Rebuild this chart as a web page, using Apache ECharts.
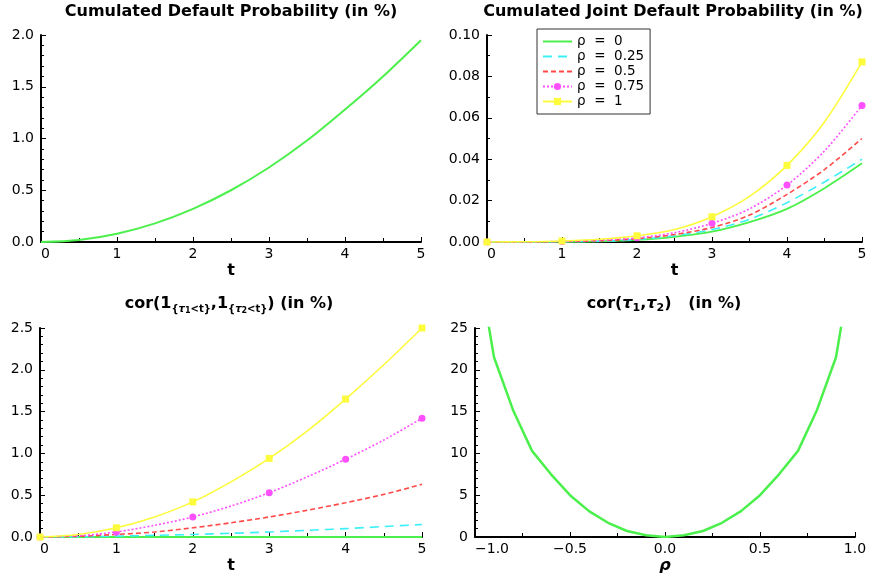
<!DOCTYPE html>
<html>
<head>
<meta charset="utf-8">
<script src="https://cdn.jsdelivr.net/npm/echarts@6/dist/echarts.min.js"></script>
<style>html,body{margin:0;padding:0;background:#fff}#c{width:871px;height:578px}</style>
</head>
<body>
<div id="c"></div>
<script>
// ---- data ----
const tGrid = [0, 0.5, 1, 1.5, 2, 2.5, 3, 3.5, 4, 4.5, 5];
const cumDefault = [0, 0.02, 0.08, 0.18, 0.32, 0.50, 0.72, 0.98, 1.28, 1.60, 1.95];

const rhoNames = ['ρ  =  0', 'ρ  =  0.25', 'ρ  =  0.5', 'ρ  =  0.75', 'ρ  =  1'];

const jointRho0   = [0, 0, 0.0001, 0.0003, 0.0010, 0.0025, 0.0050, 0.0096, 0.0160, 0.0260, 0.0380];
const jointRho025 = [0, 0, 0.0001, 0.0004, 0.0012, 0.0030, 0.0060, 0.0110, 0.0190, 0.0290, 0.0400];
const jointRho05  = [0, 0, 0.0002, 0.0006, 0.0016, 0.0036, 0.0070, 0.0130, 0.0230, 0.0350, 0.0500];
const jointRho075 = [0, 0, 0.0003, 0.0009, 0.0020, 0.0045, 0.0090, 0.0160, 0.0275, 0.0440, 0.0660];
const jointRho1   = [0, 0.0001, 0.0005, 0.0013, 0.0030, 0.0060, 0.0122, 0.0220, 0.0370, 0.0580, 0.0870];

const corRho0   = [0, 0, 0, 0, 0, 0, 0, 0, 0, 0, 0];
const corRho025 = [0, 0.002, 0.01, 0.02, 0.03, 0.045, 0.06, 0.08, 0.10, 0.125, 0.15];
const corRho05  = [0, 0.008, 0.03, 0.06, 0.11, 0.17, 0.24, 0.32, 0.41, 0.51, 0.63];
const corRho075 = [0, 0.015, 0.06, 0.14, 0.24, 0.37, 0.53, 0.72, 0.93, 1.16, 1.42];
const corRho1   = [0, 0.03, 0.11, 0.24, 0.42, 0.66, 0.94, 1.27, 1.65, 2.06, 2.50];

const rhoGrid = [-1, -0.9, -0.8, -0.7, -0.6, -0.5, -0.4, -0.3, -0.2, -0.1, 0, 0.1, 0.2, 0.3, 0.4, 0.5, 0.6, 0.7, 0.8, 0.9, 1];
const tauCorr = [35, 21.5, 15.2, 10.3, 7.5, 5.0, 3.1, 1.7, 0.72, 0.2, 0, 0.2, 0.72, 1.7, 3.1, 5.0, 7.5, 10.3, 15.2, 21.5, 35];

// ---- styles ----
const GREEN = '#4cf04c', CYAN = '#3cf0f8', RED = '#ff4a4a', MAGENTA = '#ff50ff', YELLOW = '#fcfc3c';
const rhoStyles = [
  {color: GREEN, type: 'solid', width: 1.8, symbol: 'none'},
  {color: CYAN, type: [9, 6], width: 1.6, symbol: 'none'},
  {color: RED, type: [5, 3], width: 1.6, symbol: 'none'},
  {color: MAGENTA, type: [2, 2], width: 1.6, symbol: 'circle'},
  {color: YELLOW, type: 'solid', width: 1.6, symbol: 'rect'}
];

function mkSeries(name, ys, xs, idx, st, markIntegers, smooth) {
  return {
    type: 'line', name: name, xAxisIndex: idx, yAxisIndex: idx,
    symbol: st.symbol, symbolSize: 7, showSymbol: st.symbol !== 'none',
    lineStyle: {color: st.color, type: st.type, width: st.width},
    itemStyle: {color: st.color},
    data: ys.map((v, i) => (markIntegers && st.symbol !== 'none' && Number.isInteger(xs[i])) ? [xs[i], v] : {value: [xs[i], v], symbol: 'none'}),
    smooth: smooth ? 0.3 : false, animation: false, z: 3
  };
}

const LBL_FONT = 'DejaVu Sans';
function xAx(idx, min, max, interval, name, fmt, nameStyle) {
  return {
    type: 'value', gridIndex: idx, min: min, max: max, interval: interval,
    name: name, nameLocation: 'middle', nameGap: 21,
    nameTextStyle: Object.assign({color: '#000', fontFamily: 'DejaVu Sans', fontWeight: 'bold', fontSize: 16}, nameStyle || {}),
    axisLine: {onZero: false, lineStyle: {color: '#000', width: 2}},
    axisTick: {inside: true, length: 5, lineStyle: {color: '#000', width: 1}},
    minorTick: {show: true, splitNumber: 2, length: 4, lineStyle: {color: '#000', width: 1}},
    splitLine: {show: false},
    axisLabel: {color: '#000', fontFamily: LBL_FONT, fontSize: 14, margin: 5, formatter: fmt, alignMinLabel: 'left'}
  };
}
function yAx(idx, min, max, interval, minorSplit, fmt) {
  return {
    type: 'value', gridIndex: idx, min: min, max: max, interval: interval,
    axisLine: {onZero: false, lineStyle: {color: '#000', width: 2}},
    axisTick: {inside: true, length: 5, lineStyle: {color: '#000', width: 1}},
    minorTick: {show: true, splitNumber: minorSplit, length: 3, lineStyle: {color: '#000', width: 1}},
    splitLine: {show: false},
    axisLabel: {color: '#000', fontFamily: LBL_FONT, fontSize: 14, margin: 7, formatter: fmt}
  };
}
const fx = d => v => v.toFixed(d);
const fxMinus = v => (v < 0 ? '\u2212' : '') + Math.abs(v).toFixed(1);

// ---- titles (rich fragments measured on canvas) ----
const ctx = document.createElement('canvas').getContext('2d');
const BIG = "bold 16px 'DejaVu Sans'", BIGI = "bold italic 16px 'DejaVu Sans'";
const SUB = "bold 10px 'DejaVu Sans'", SUBI = "bold italic 10px 'DejaVu Sans'", SUB2 = "bold 8px 'DejaVu Sans'";
const SUBT = "bold 11px 'DejaVu Sans'";
function buildTitle(frags, cx, cy) {
  let total = 0;
  frags.forEach(f => { ctx.font = f.font; f.w = ctx.measureText(f.text).width; total += f.w; });
  let x = cx - total / 2;
  return frags.map(f => {
    const el = {type: 'text', x: x, y: cy + (f.dy || 0), silent: true, z: 10,
      style: {text: f.text, font: f.font, fill: '#000', textAlign: 'left', textVerticalAlign: 'middle', align: 'left', verticalAlign: 'middle'}};
    x += f.w;
    return el;
  });
}
const titleEls = [].concat(
  buildTitle([{text: 'Cumulated Default Probability (in %)', font: BIG}], 231, 12),
  buildTitle([{text: 'Cumulated Joint Default Probability (in %)', font: BIG}], 673, 12),
  buildTitle([
    {text: 'cor(1', font: BIG},
    {text: '{', font: SUB, dy: 5}, {text: 'τ', font: SUBI, dy: 5}, {text: '1', font: SUB2, dy: 7}, {text: '<t}', font: SUB, dy: 5},
    {text: ',1', font: BIG},
    {text: '{', font: SUB, dy: 5}, {text: 'τ', font: SUBI, dy: 5}, {text: '2', font: SUB2, dy: 7}, {text: '<t}', font: SUB, dy: 5},
    {text: ') (in %)', font: BIG}
  ], 229, 304),
  buildTitle([
    {text: 'cor(', font: BIG}, {text: 'τ', font: BIGI}, {text: '1', font: SUBT, dy: 4},
    {text: ',', font: BIG}, {text: 'τ', font: BIGI}, {text: '2', font: SUBT, dy: 4},
    {text: ')   (in %)', font: BIG}
  ], 664, 304)
);

// ---- series ----
const series = [];
series.push(mkSeries('cum', cumDefault, tGrid, 0, {color: GREEN, type: 'solid', width: 2, symbol: 'none'}, false, true));
const jointArr = [jointRho0, jointRho025, jointRho05, jointRho075, jointRho1];
const corArr = [corRho0, corRho025, corRho05, corRho075, corRho1];
jointArr.forEach((a, i) => series.push(mkSeries(rhoNames[i], a, tGrid, 1, rhoStyles[i], true, true)));
corArr.forEach((a, i) => series.push(mkSeries(rhoNames[i], a, tGrid, 2, rhoStyles[i], true, true)));
series.push(mkSeries('taucor', tauCorr, rhoGrid, 3, {color: GREEN, type: 'solid', width: 2.5, symbol: 'none'}, false, false));

const legendData = rhoNames.map((n, i) => rhoStyles[i].symbol === 'none' ? {name: n, itemStyle: {opacity: 0}} : {name: n});

const option = {
  animation: false,
  backgroundColor: '#fff',
  grid: [
    {left: 41, top: 35, width: 380, height: 207},
    {left: 487, top: 35, width: 375, height: 207},
    {left: 40, top: 328, width: 382, height: 209},
    {left: 475, top: 328, width: 380, height: 209}
  ],
  xAxis: [
    xAx(0, 0, 5, 1, 't', fx(0)),
    xAx(1, 0, 5, 1, 't', fx(0)),
    xAx(2, 0, 5, 1, 't', fx(0)),
    xAx(3, -1, 1, 0.5, 'ρ', fxMinus, {fontStyle: 'italic'})
  ],
  yAxis: [
    yAx(0, 0, 2, 0.5, 5, fx(1)),
    yAx(1, 0, 0.1, 0.02, 2, fx(2)),
    yAx(2, 0, 2.5, 0.5, 5, fx(1)),
    yAx(3, 0, 25, 5, 5, fx(0))
  ],
  legend: {
    data: legendData, orient: 'vertical', left: 537, top: 29,
    backgroundColor: '#fff', borderColor: '#333', borderWidth: 1, borderRadius: 0,
    padding: [5, 6, 5, 5], itemGap: 0, itemWidth: 29, itemHeight: 9,
    textStyle: {color: '#000', fontFamily: LBL_FONT, fontSize: 13.5, lineHeight: 15}
  },
  graphic: titleEls,
  series: series
};
echarts.init(document.getElementById('c'), null, {renderer: 'canvas'}).setOption(option);
</script>
</body>
</html>
